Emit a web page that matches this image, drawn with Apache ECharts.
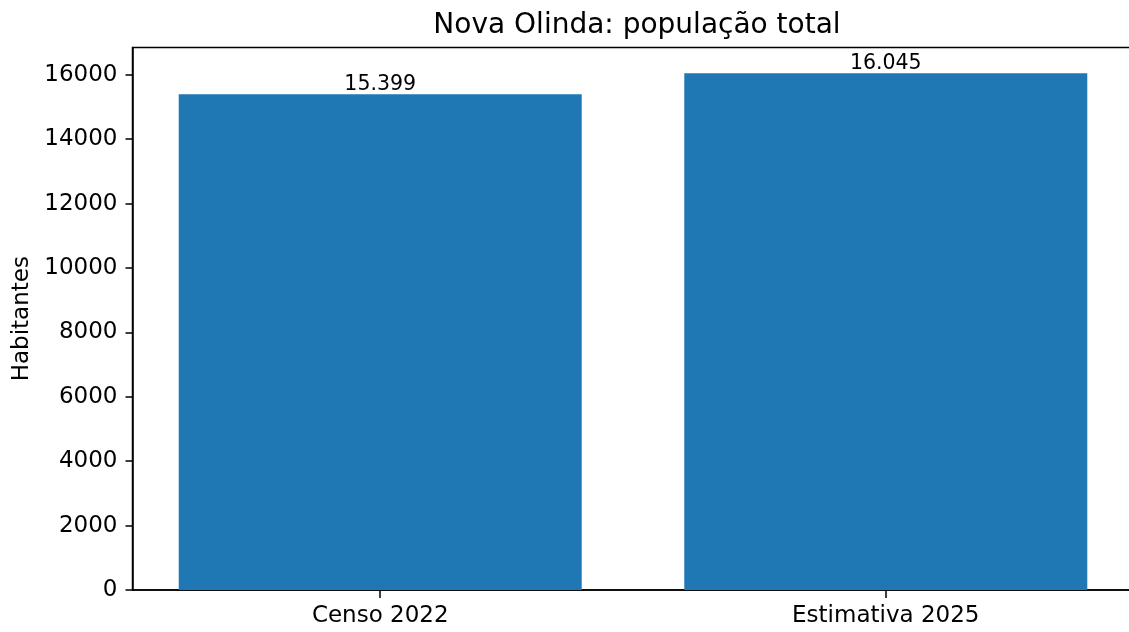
<!DOCTYPE html>
<html>
<head>
<meta charset="utf-8">
<script src="https://cdn.jsdelivr.net/npm/echarts@6/dist/echarts.min.js"></script>
<style>
  html, body { margin: 0; padding: 0; background: #fff; }
  #main { width: 1129px; height: 632px; }
</style>
</head>
<body>
<div id="main"></div>
<script>
// dados
var categorias = ['Censo 2022', 'Estimativa 2025'];
var populacao = [15399, 16045];
var yTicks = [0, 2000, 4000, 6000, 8000, 10000, 12000, 14000, 16000];

// 15399 -> "15.399"
function fmtBR(v) {
    return String(v).replace(/\B(?=(\d{3})+(?!\d))/g, '.');
}

var chart = echarts.init(document.getElementById('main'));
var fonte = 'DejaVu Sans';

chart.setOption({
    animation: false,
    textStyle: { fontFamily: fonte },
    title: {
        text: 'Nova Olinda: população total',
        left: 632,
        textAlign: 'center',
        top: 7,
        textStyle: { fontFamily: fonte, fontSize: 28, fontWeight: 'normal', color: '#000' }
    },
    grid: {
        left: 132.5, width: 1001, top: 47.5, bottom: 42,
        outerBoundsMode: 'none',
        containLabel: false,
        show: true, borderColor: '#000', borderWidth: 1.5, backgroundColor: 'transparent'
    },
    xAxis: {
        type: 'value',
        min: -0.49,
        max: 1.49,
        splitLine: { show: false },
        axisLine: { onZero: false, lineStyle: { color: '#000', width: 1.5 } },
        axisTick: { length: 8, lineStyle: { color: '#000', width: 1.5 }, customValues: [0, 1] },
        axisLabel: {
            customValues: [0, 1],
            margin: 15,
            fontFamily: fonte, fontSize: 23, color: '#000',
            formatter: function (v) { return categorias[Math.round(v)] || ''; }
        }
    },
    yAxis: {
        type: 'value',
        min: 0,
        max: Math.max.apply(null, populacao) * 1.05,
        interval: 2000,
        name: 'Habitantes',
        nameLocation: 'middle',
        nameGap: 99,
        nameTextStyle: { fontFamily: fonte, fontSize: 23, color: '#000' },
        splitLine: { show: false },
        axisLine: { show: true, onZero: false, lineStyle: { color: '#000', width: 1.5 } },
        axisTick: { show: true, length: 7, lineStyle: { color: '#000', width: 1.5 }, customValues: yTicks },
        axisLabel: {
            customValues: yTicks,
            margin: 15,
            fontFamily: fonte, fontSize: 23, color: '#000',
            formatter: function (v) { return String(v); }
        }
    },
    series: [{
        type: 'bar',
        barWidth: 403,
        itemStyle: { color: '#1f77b4' },
        data: populacao.map(function (v, i) { return [i, v]; }),
        label: {
            show: true,
            position: 'top',
            distance: -1,
            fontFamily: fonte,
            fontSize: 20.5,
            color: '#000',
            formatter: function (p) { return fmtBR(p.value[1]); }
        }
    }]
});
</script>
</body>
</html>
